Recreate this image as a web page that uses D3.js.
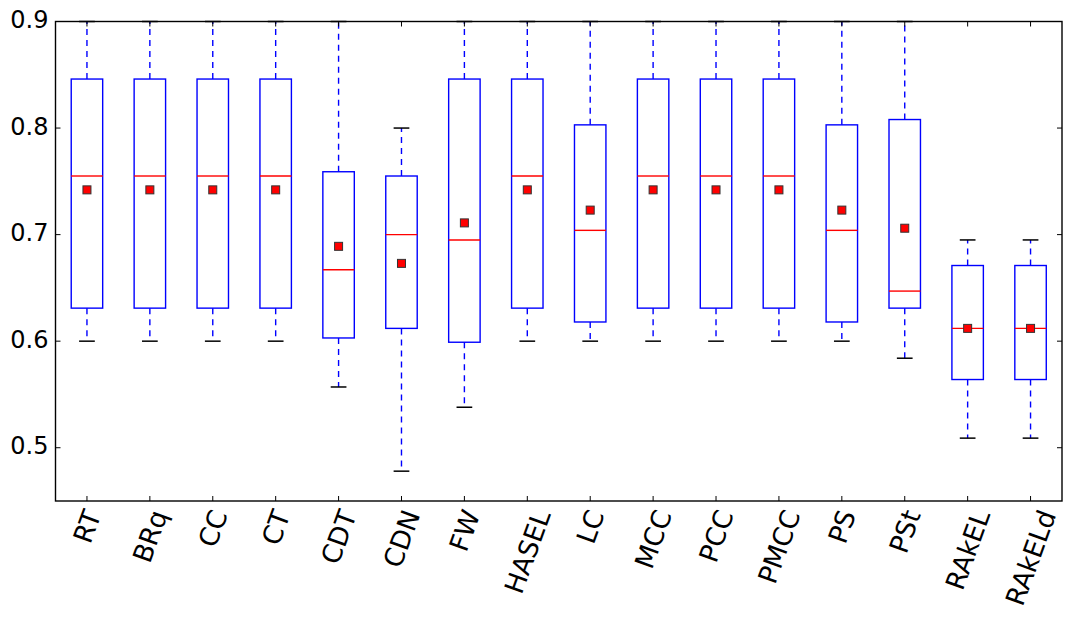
<!DOCTYPE html>
<html>
<head>
<meta charset="utf-8">
<script src="https://cdn.jsdelivr.net/npm/d3@7"></script>
<style>
  body { margin: 0; background: #fff; }
  text { font-family: "DejaVu Sans", sans-serif; }
</style>
</head>
<body>
<div id="container"></div>
<script>
/* DATA */
const methods = ['RT', 'BRq', 'CC', 'CT', 'CDT', 'CDN', 'FW', 'HASEL', 'LC', 'MCC', 'PCC', 'PMCC', 'PS', 'PSt', 'RAkEL', 'RAkELd'];
const whiskerLow  = [0.600, 0.600, 0.600, 0.600, 0.557, 0.478, 0.538, 0.600, 0.600, 0.600, 0.600, 0.600, 0.600, 0.584, 0.509, 0.509];
const q1          = [0.631, 0.631, 0.631, 0.631, 0.603, 0.612, 0.599, 0.631, 0.618, 0.631, 0.631, 0.631, 0.618, 0.631, 0.564, 0.564];
const medians     = [0.755, 0.755, 0.755, 0.755, 0.667, 0.700, 0.695, 0.755, 0.704, 0.755, 0.755, 0.755, 0.704, 0.647, 0.612, 0.612];
const q3          = [0.846, 0.846, 0.846, 0.846, 0.759, 0.755, 0.846, 0.846, 0.803, 0.846, 0.846, 0.846, 0.803, 0.808, 0.671, 0.671];
const whiskerHigh = [0.900, 0.900, 0.900, 0.900, 0.900, 0.800, 0.900, 0.900, 0.900, 0.900, 0.900, 0.900, 0.900, 0.900, 0.695, 0.695];
const means       = [0.742, 0.742, 0.742, 0.742, 0.689, 0.673, 0.711, 0.742, 0.723, 0.742, 0.742, 0.742, 0.723, 0.706, 0.612, 0.612];
const yTicks = [0.5, 0.6, 0.7, 0.8, 0.9];

const data = methods.map((m, i) => ({
  name: m, pos: i + 1,
  lo: whiskerLow[i], q1: q1[i], med: medians[i], q3: q3[i], hi: whiskerHigh[i], mean: means[i]
}));

/* CONSTANTS */
const width = 1072, height = 625;
const plotLeft = 55.5, plotRight = 1062, plotTop = 21.5, plotBottom = 501;
const yFont = 24, xFont = 26.5;

const svg = d3.select("#container")
  .append("svg")
  .attr("width", width)
  .attr("height", height);

/* SCALES */
const xScale = d3.scaleLinear().domain([0.5, 16.5]).range([plotLeft, plotRight]);
const yScale = d3.scaleLinear().domain([0.45, 0.9]).range([plotBottom, plotTop]);

const boxW = xScale(1.25) - xScale(1);   // half width of box
const capW = xScale(1.125) - xScale(1);  // half width of caps

const g = svg.append("g");

/* WHISKERS */
g.selectAll("line.wlo").data(data).join("line")
  .attr("x1", d => xScale(d.pos)).attr("x2", d => xScale(d.pos))
  .attr("y1", d => yScale(d.q1)).attr("y2", d => yScale(d.lo))
  .attr("stroke", "#0000ff").attr("stroke-width", 1.4).attr("stroke-dasharray", "6,5");
g.selectAll("line.whi").data(data).join("line")
  .attr("x1", d => xScale(d.pos)).attr("x2", d => xScale(d.pos))
  .attr("y1", d => yScale(d.q3)).attr("y2", d => yScale(d.hi))
  .attr("stroke", "#0000ff").attr("stroke-width", 1.4).attr("stroke-dasharray", "6,5");

// caps
["lo", "hi"].forEach(k => {
  g.selectAll("line.cap" + k).data(data).join("line")
    .attr("x1", d => xScale(d.pos) - capW).attr("x2", d => xScale(d.pos) + capW)
    .attr("y1", d => yScale(d[k])).attr("y2", d => yScale(d[k]))
    .attr("stroke", "#000").attr("stroke-width", 1.5);
});

/* BOXES */
g.selectAll("rect.box").data(data).join("rect")
  .attr("x", d => xScale(d.pos) - boxW)
  .attr("y", d => yScale(d.q3))
  .attr("width", 2 * boxW)
  .attr("height", d => yScale(d.q1) - yScale(d.q3))
  .attr("fill", "none").attr("stroke", "#0000ff").attr("stroke-width", 1.4);

// medians
g.selectAll("line.med").data(data).join("line")
  .attr("x1", d => xScale(d.pos) - boxW).attr("x2", d => xScale(d.pos) + boxW)
  .attr("y1", d => yScale(d.med)).attr("y2", d => yScale(d.med))
  .attr("stroke", "#ff0000").attr("stroke-width", 1.4);

// means
const ms = 8;
g.selectAll("rect.mean").data(data).join("rect")
  .attr("x", d => xScale(d.pos) - ms / 2)
  .attr("y", d => yScale(d.mean) - ms / 2)
  .attr("width", ms).attr("height", ms)
  .attr("fill", "#ff0000").attr("stroke", "#333").attr("stroke-width", 1);

/* FRAME + TICKS (inward, both sides) */
svg.append("rect")
  .attr("x", plotLeft).attr("y", plotTop)
  .attr("width", plotRight - plotLeft).attr("height", plotBottom - plotTop)
  .attr("fill", "none").attr("stroke", "#000").attr("stroke-width", 1.4);

const tl = 5;
yTicks.forEach(v => {
  const y = yScale(v);
  svg.append("line").attr("x1", plotLeft).attr("x2", plotLeft + tl).attr("y1", y).attr("y2", y).attr("stroke", "#000");
  svg.append("line").attr("x1", plotRight).attr("x2", plotRight - tl).attr("y1", y).attr("y2", y).attr("stroke", "#000");
  svg.append("text")
    .attr("x", plotLeft - 7).attr("y", y + 6.5)
    .attr("text-anchor", "end")
    .attr("font-size", yFont)
    .text(v.toFixed(1));
});

data.forEach(d => {
  const x = xScale(d.pos);
  svg.append("line").attr("x1", x).attr("x2", x).attr("y1", plotBottom).attr("y2", plotBottom - tl).attr("stroke", "#000");
  svg.append("line").attr("x1", x).attr("x2", x).attr("y1", plotTop).attr("y2", plotTop + tl).attr("stroke", "#000");
});

/* X LABELS rotated 70deg, bbox centered on tick, top aligned below axis */
const ang = 70 * Math.PI / 180;
data.forEach(d => {
  const t = svg.append("text")
    .attr("text-anchor", "middle")
    .attr("dominant-baseline", "central")
    .attr("font-size", xFont)
    .text(d.name);
  const L = t.node().getComputedTextLength();
  const h = xFont * 0.9;
  const bh = L * Math.sin(ang) + h * Math.cos(ang);
  const cx = xScale(d.pos);
  const cy = plotBottom + 6 + bh / 2;
  t.attr("transform", `translate(${cx},${cy}) rotate(-70)`);
});
</script>
</body>
</html>
